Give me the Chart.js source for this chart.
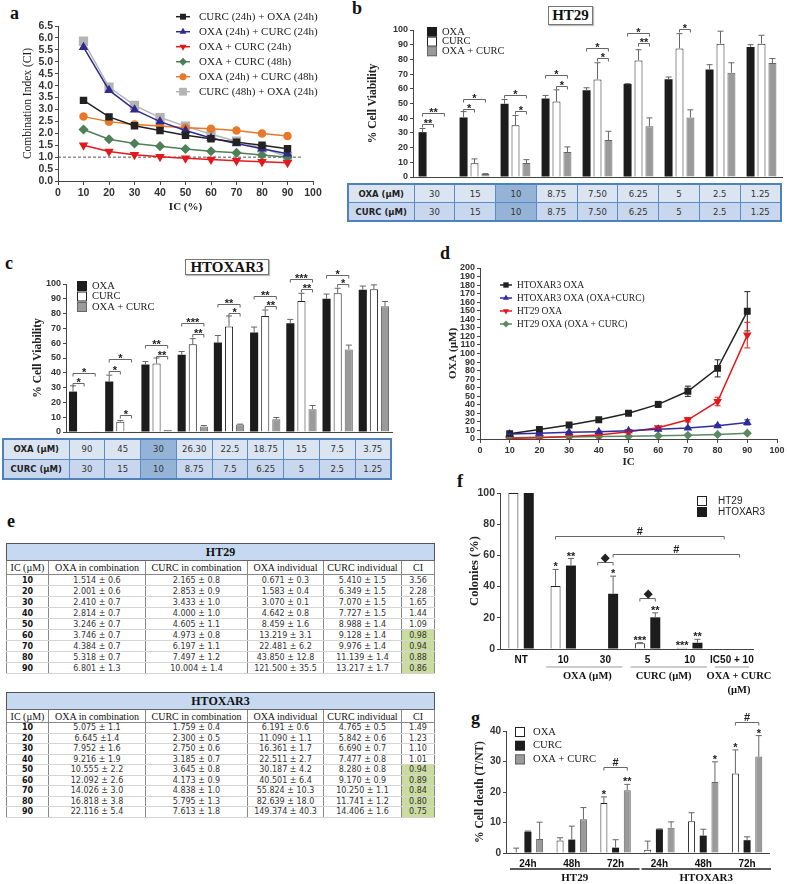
<!DOCTYPE html>
<html>
<head>
<meta charset="utf-8">
<script src="https://cdn.jsdelivr.net/npm/chart.js@4.4.1/dist/chart.umd.min.js"></script>
<style>
  body { margin: 0; background: #fff; }
  #page { position: relative; width: 787px; height: 884px; overflow: hidden; }
  canvas.layer { position: absolute; left: 0; top: 0; }
  .tag { position: absolute; font: bold 18px 'Liberation Serif', serif; color: #111; line-height: 1; }
  .boxtitle { position: absolute; font: bold 15px 'Liberation Serif', serif; color: #111; border: 1px solid #777;
    box-shadow: 1px 1px 1px #bbb; text-align: center; background: #fff; box-sizing: border-box; }
  table { position: absolute; border-collapse: collapse; table-layout: fixed; }
  table.dose { border: 2px solid #4f81bd; font: 8.5px 'DejaVu Sans', sans-serif; color: #333; }
  table.dose td, table.dose th { border: 1.5px solid #5b8ac6; text-align: center; padding: 0; background: #dbe5f1; }
  table.dose th { font: bold 8.5px 'DejaVu Sans', sans-serif; color: #222; }
  table.dose tr.r2 td, table.dose tr.r2 th { background: #c8d7ee; }
  table.dose td.hi, table.dose tr.r2 td.hi { background: #95b3d7; }
  table.ic { left: 6px; width: 428px; border: 1.5px solid #555; font: 8px 'DejaVu Sans', sans-serif; color: #333; }
  table.ic td { border-left: 1px solid #888; border-right: 1px solid #888; border-bottom: 1px solid #d4d4d4;
    text-align: center; padding: 0; line-height: 9px; white-space: nowrap; }
  table.ic td.ic0 { font-weight: bold; color: #111; }
  table.ic th { padding: 0; white-space: nowrap; }
  table.ic th.ttl { background: #c6d9f1; font: bold 12px 'Liberation Serif', serif; color: #111; border-bottom: 1px solid #666; }
  table.ic th.hd { font: 10px 'Liberation Serif', serif; color: #111; border: 1px solid #888; font-weight: normal; }
  table.ic td.green { background: #cadd9f; }
</style>
</head>
<body>
<div id="page">
  <div class="tag" style="left:10px;top:4px">a</div>
  <div class="tag" style="left:352px;top:-1px">b</div>
  <div class="tag" style="left:5px;top:254px">c</div>
  <div class="tag" style="left:440px;top:244px">d</div>
  <div class="tag" style="left:7px;top:512px">e</div>
  <div class="tag" style="left:457px;top:472px">f</div>
  <div class="tag" style="left:471px;top:709px">g</div>
  <div class="boxtitle" style="left:548px;top:6px;width:45px;height:19px;line-height:17px">HT29</div>
  <div class="boxtitle" style="left:185px;top:259px;width:84px;height:16px;line-height:14px">HTOXAR3</div>
  <table class="dose" id="doseB" style="left:347px;top:183px;width:435px"></table>
  <table class="dose" id="doseC" style="left:2px;top:438px;width:390px"></table>
  <table class="ic" id="tabHT29" style="top:543px"></table>
  <table class="ic" id="tabHTOX" style="top:692px"></table>
</div>
<script>
const W = 787, H = 884;
const SERIF = "'Liberation Serif', 'Times New Roman', serif";
const SANS = "'Liberation Sans', Arial, sans-serif";

// ---- a: combination index
const icPct = [10, 20, 30, 40, 50, 60, 70, 80, 90];
const ciC24O24 = [3.38, 2.69, 2.32, 2.12, 1.92, 1.77, 1.63, 1.50, 1.35];
const ciO24C24 = [5.61, 3.81, 2.99, 2.49, 2.12, 1.80, 1.57, 1.35, 1.14];
const ciOC24 = [1.50, 1.24, 1.10, 1.02, 0.95, 0.90, 0.85, 0.81, 0.77];
const ciOC48 = [2.16, 1.75, 1.57, 1.46, 1.34, 1.25, 1.18, 1.09, 1.00];
const ciO24C48 = [2.70, 2.49, 2.37, 2.31, 2.23, 2.19, 2.12, 1.99, 1.89];
const ciC48O24 = [5.86, 3.94, 3.17, 2.66, 2.30, 1.96, 1.67, 1.39, 1.02];
const ciRef = 1;
const ciRefEnd = 96;

// ---- b: HT29 viability
const bOxaDose = ['30', '15', '10', '8.75', '7.50', '6.25', '5', '2.5', '1.25'];
const bCurcDose = ['30', '15', '10', '8.75', '7.50', '6.25', '5', '2.5', '1.25'];
const bOxa = [30.5, 40.5, 49.8, 53.4, 59.0, 63.2, 66.5, 73.2, 88.5];
const bOxaSd = [2.5, 4.0, 2.9, 2.1, 1.7, 0.3, 1.5, 3.2, 1.5];
const bCurc = [0.3, 9.3, 35.2, 51.3, 66.4, 79.3, 87.5, 90.7, 90.7];
const bCurcSd = [0, 3.0, 6.6, 8.0, 11.3, 7.3, 10.0, 8.5, 5.7];
const bCombo = [0.4, 2.0, 9.5, 17.0, 25.2, 34.5, 40.4, 70.9, 77.5];
const bComboSd = [0, 0.3, 2.3, 3.5, 5.9, 5.7, 5.3, 6.8, 3.1];
const bSig = [[0,0,0,1,35.9,'**'],[0,0,0,2,43.2,'**'],[1,0,1,1,46.4,'*'],[1,0,1,2,53.2,'*'],
  [2,0,2,2,55.5,'*'],[2,1,2,2,45,'*'],[3,0,3,2,69.3,'*'],[3,1,3,2,61.8,'*'],[4,0,4,2,88,'*'],
  [4,1,4,2,81,'*'],[5,0,5,2,97.7,'*'],[5,1,5,2,91,'**'],[6,1,6,2,100.5,'*']];

// ---- c: HTOXAR3 viability
const cOxaDose = ['90', '45', '30', '26.30', '22.5', '18.75', '15', '7.5', '3.75'];
const cCurcDose = ['30', '15', '10', '8.75', '7.5', '6.25', '5', '2.5', '1.25'];
const cOxa = [27.3, 34.1, 45.6, 52.2, 60.5, 67.3, 73.4, 90.0, 96.1];
const cOxaSd = [3.9, 4.3, 2.0, 2.2, 4.7, 3.6, 2.7, 3.2, 2.5];
const cCurc = [0, 7.0, 46.2, 59.3, 71.3, 78.4, 88.5, 93.7, 96.4];
const cCurcSd = [0, 0.8, 3.8, 3.8, 7.1, 4.0, 5.2, 3.4, 3.0];
const cCombo = [0.2, 0.5, 1.5, 3.8, 5.0, 8.6, 15.4, 55.7, 84.9];
const cComboSd = [0, 0, 0, 0.6, 0.3, 1.2, 2.5, 3.0, 3.3];
const cSig = [[0,0,0,1,33.4,'*'],[0,0,0,2,39.8,'*'],[1,0,1,1,41.5,'*'],[1,0,1,2,49.2,'*'],[1,1,1,2,11.6,'*'],
  [2,0,2,2,58.9,'**'],[2,1,2,2,51.5,'**'],[3,0,3,2,73.6,'***'],[3,1,3,2,66.4,'**'],[4,0,4,2,86.7,'**'],
  [4,1,4,2,80.4,'*'],[5,0,5,2,92.1,'**'],[5,1,5,2,85.3,'**'],[6,0,6,2,103.6,'***'],[6,1,6,2,96.8,'**'],
  [7,0,7,2,106.1,'*'],[7,1,7,2,100,'*']];

// ---- d: OXA dose for each IC
const dHtoxOxa = [6.191, 11.090, 16.361, 22.511, 30.187, 40.501, 55.824, 82.639, 149.374];
const dHtoxOxaErr = [0.6, 1.0, 1.0, 1.2, 1.8, 3.5, 6, 10, 23];
const dHtoxComb = [5.8, 6.6, 7.8, 8.5, 9.7, 11.3, 12.8, 15.5, 19.4];
const dHtoxCombErr = [0.8, 0.8, 0.8, 0.8, 0.8, 1, 1, 1.5, 3];
const dHt29Oxa = [0.671, 1.583, 3.070, 4.642, 8.459, 13.219, 22.481, 43.850, 121.5];
const dHt29OxaErr = [0.3, 0.4, 0.3, 0.8, 1.0, 1.5, 2.5, 5, 15];
const dHt29Comb = [1.514, 2.001, 2.410, 2.814, 3.246, 3.746, 4.384, 5.318, 6.801];
const dHt29CombErr = [0.4, 0.4, 0.5, 0.5, 0.5, 0.5, 0.5, 0.6, 1.0];

// ---- e: tables
const eIc = ['10', '20', '30', '40', '50', '60', '70', '80', '90'];
const e29OxaComb = ['1.514 ± 0.6','2.001 ± 0.6','2.410 ± 0.7','2.814 ± 0.7','3.246 ± 0.7','3.746 ± 0.7','4.384 ± 0.7','5.318 ± 0.7','6.801 ± 1.3'];
const e29CurcComb = ['2.165 ± 0.8','2.853 ± 0.9','3.433 ± 1.0','4.000 ± 1.0','4.605 ± 1.1','4.973 ± 0.8','6.197 ± 1.1','7.497 ± 1.2','10.004 ± 1.4'];
const e29OxaInd = ['0.671 ± 0.3','1.583 ± 0.4','3.070 ± 0.1','4.642 ± 0.8','8.459 ± 1.6','13.219 ± 3.1','22.481 ± 6.2','43.850 ± 12.8','121.500 ± 35.5'];
const e29CurcInd = ['5.410 ± 1.5','6.349 ± 1.5','7.070 ± 1.5','7.727 ± 1.5','8.988 ± 1.4','9.128 ± 1.4','9.976 ± 1.4','11.139 ± 1.4','13.217 ± 1.7'];
const e29Ci = ['3.56','2.28','1.65','1.44','1.09','0.98','0.94','0.88','0.86'];
const e3OxaComb = ['5.075 ± 1.1','6.645 ±1.4','7.952 ± 1.6','9.216 ± 1.9','10.555 ± 2.2','12.092 ± 2.6','14.026 ± 3.0','16.818 ± 3.8','22.116 ± 5.4'];
const e3CurcComb = ['1.759 ± 0.4','2.300 ± 0.5','2.750 ± 0.6','3.185 ± 0.7','3.645 ± 0.8','4.173 ± 0.9','4.838 ± 1.0','5.795 ± 1.3','7.613 ± 1.8'];
const e3OxaInd = ['6.191 ± 0.6','11.090 ± 1.1','16.361 ± 1.7','22.511 ± 2.7','30.187 ± 4.2','40.501 ± 6.4','55.824 ± 10.3','82.639 ± 18.0','149.374 ± 40.3'];
const e3CurcInd = ['4.765 ± 0.5','5.842 ± 0.6','6.690 ± 0.7','7.477 ± 0.8','8.280 ± 0.8','9.170 ± 0.9','10.250 ± 1.1','11.741 ± 1.2','14.406 ± 1.6'];
const e3Ci = ['1.49','1.23','1.10','1.01','0.94','0.89','0.84','0.80','0.75'];
const eHeads = ['IC (µM)', 'OXA in combination', 'CURC in combination', 'OXA individual', 'CURC individual', 'CI'];

// ---- f: colonies
const fCats = ['NT', '10', '30', '5', '10', 'IC50 + 10'];
const fHt29 = [100, 40.4, 0, 3.7, 0.8, 0];
const fHt29Sd = [0, 10.6, 0, 0.4, 0, 0];
const fHtox = [100, 53.5, 35.4, 20.3, 4.0, 0];
const fHtoxSd = [0, 4.5, 11.3, 2.9, 2.2, 0];
const fGroups = [[1, 2, ['OXA (µM)']], [3, 4, ['CURC (µM)']], [5, 5, ['OXA + CURC', '(µM)']]];
const fBrackets = [[2,0,2,1,55.5,'◆'],[3,0,3,1,32.8,'◆'],[1,0,5,0,72.3,'#'],[2,1,5,1,60.8,'#']];
const fStars = [[1,0,'*'],[1,1,'**'],[2,1,'*'],[3,0,'***'],[3,1,'**'],[4,0,'***'],[4,1,'**']];

// ---- g: cell death
const gCats = ['24h', '48h', '72h', '24h', '48h', '72h'];
const gOxa = [0.2, 4.1, 16.4, 1.1, 10.4, 26.1];
const gOxaSd = [1.4, 0.9, 2.0, 2.8, 2.8, 7.7];
const gCurc = [7.0, 4.4, 1.75, 7.8, 5.7, 4.2];
const gCurcSd = [0.2, 4.4, 2.6, 0.1, 2.1, 1.1];
const gCombo = [4.6, 11.1, 20.6, 8.3, 23.3, 31.6];
const gComboSd = [5.5, 3.8, 1.9, 1.9, 6.6, 6.9];
const gGroups = [[0, 2, ['HT29']], [3, 5, ['HTOXAR3']]];
const gBrackets = [[2,0,2,2,28.1,'#'],[5,0,5,2,43.1,'#']];
const gStars = [[2,0,'*'],[2,2,'**'],[4,2,'*'],[5,0,'*'],[5,2,'*']];

// ---------- plugins ----------
function marker(ctx, style, x, y, r, rot) {
  ctx.beginPath();
  if (style === 'rect') {
    const s = r * Math.SQRT1_2;
    ctx.rect(x - s, y - s, 2 * s, 2 * s);
  } else if (style === 'rectRot') {
    ctx.moveTo(x, y - r); ctx.lineTo(x + r, y); ctx.lineTo(x, y + r); ctx.lineTo(x - r, y); ctx.closePath();
  } else if (style === 'triangle') {
    const d = rot ? -1 : 1;
    ctx.moveTo(x, y - d * r); ctx.lineTo(x + r * 0.866, y + d * r / 2); ctx.lineTo(x - r * 0.866, y + d * r / 2); ctx.closePath();
  } else {
    ctx.arc(x, y, r, 0, Math.PI * 2);
  }
  ctx.fill();
}

const errorBars = {
  id: 'errorBars',
  afterDatasetsDraw(chart) {
    const ctx = chart.ctx, ys = chart.scales.y;
    chart.data.datasets.forEach((ds, i) => {
      if (!ds.errors) return;
      const meta = chart.getDatasetMeta(i);
      ctx.save();
      ctx.strokeStyle = ds.errorColor || '#666';
      ctx.lineWidth = 1;
      meta.data.forEach((el, j) => {
        const e = ds.errors[j];
        if (!e) return;
        const raw = ds.data[j];
        const v = typeof raw === 'object' ? raw.y : raw;
        const top = ys.getPixelForValue(v + e);
        const bot = ds.errorBoth ? ys.getPixelForValue(Math.max(v - e, 0)) : el.y;
        const cap = ds.errorCap || 3;
        ctx.beginPath();
        ctx.moveTo(el.x, bot); ctx.lineTo(el.x, top);
        ctx.moveTo(el.x - cap, top); ctx.lineTo(el.x + cap, top);
        if (ds.errorBoth) { ctx.moveTo(el.x - cap, bot); ctx.lineTo(el.x + cap, bot); }
        ctx.stroke();
      });
      ctx.restore();
    });
  }
};

const sigMarks = {
  id: 'sigMarks',
  afterDatasetsDraw(chart, args, o) {
    if (!o || (!o.brackets && !o.stars)) return;
    const ctx = chart.ctx, ys = chart.scales.y;
    const px = (g, d) => chart.getDatasetMeta(d).data[g].x;
    const lift = t => (t.indexOf('*') >= 0 ? 2.5 : -2);
    ctx.save();
    ctx.strokeStyle = '#666'; ctx.fillStyle = '#222'; ctx.lineWidth = 1;
    ctx.font = o.font; ctx.textAlign = 'center'; ctx.textBaseline = 'alphabetic';
    (o.brackets || []).forEach(([ga, da, gb, db, v, t]) => {
      const x1 = px(ga, da), x2 = px(gb, db), y = Math.round(ys.getPixelForValue(v)) + 0.5;
      ctx.beginPath();
      ctx.moveTo(x1, y + 3); ctx.lineTo(x1, y); ctx.lineTo(x2, y); ctx.lineTo(x2, y + 3);
      ctx.stroke();
      ctx.fillText(t, (x1 + x2) / 2, y + lift(t));
    });
    (o.stars || []).forEach(([g, d, t]) => {
      const ds = chart.data.datasets[d];
      const top = ys.getPixelForValue(ds.data[g] + (ds.errors ? ds.errors[g] : 0));
      ctx.fillText(t, px(g, d), top + 1);
    });
    ctx.restore();
  }
};

const groupAxis = {
  id: 'groupAxis',
  afterDraw(chart, args, o) {
    if (!o || !o.groups) return;
    const xs = chart.scales.x, ctx = chart.ctx, b = chart.chartArea.bottom;
    const w = xs.getPixelForValue(1) - xs.getPixelForValue(0);
    ctx.save();
    ctx.strokeStyle = o.lineColor; ctx.lineWidth = o.lineWidth;
    ctx.fillStyle = '#111'; ctx.font = o.font; ctx.textAlign = 'center'; ctx.textBaseline = 'middle';
    o.groups.forEach(([from, to, lines], gi) => {
      const x1 = xs.getPixelForValue(from) - w / 2 + o.inset[0];
      const x2 = xs.getPixelForValue(to) + w / 2 + o.inset[1];
      const dx = o.textDx ? o.textDx[gi] : 0;
      ctx.beginPath(); ctx.moveTo(x1, b + o.lineY); ctx.lineTo(x2, b + o.lineY); ctx.stroke();
      lines.forEach((t, k) => ctx.fillText(t, (x1 + x2) / 2 + dx, b + o.textY + k * o.lineH));
    });
    ctx.restore();
  }
};

const legendBox = {
  id: 'legendBox',
  afterDraw(chart, args, o) {
    if (!o || o.x == null) return;
    const ctx = chart.ctx;
    ctx.save();
    ctx.font = o.font; ctx.textBaseline = 'middle'; ctx.textAlign = 'left';
    let row = 0;
    chart.data.datasets.forEach(ds => {
      if (ds.noLegend) return;
      const y = o.y + row++ * o.step;
      if (o.kind === 'line') {
        ctx.strokeStyle = ds.borderColor; ctx.lineWidth = ds.borderWidth;
        ctx.beginPath(); ctx.moveTo(o.x - o.half, y); ctx.lineTo(o.x + o.half, y); ctx.stroke();
        ctx.fillStyle = ds.borderColor;
        marker(ctx, ds.pointStyle, o.x, y, ds.pointRadius, ds.pointRotation);
      } else {
        ctx.fillStyle = ds.backgroundColor;
        ctx.fillRect(o.x, y - o.size / 2, o.size, o.size);
        if (ds.borderWidth) {
          ctx.strokeStyle = ds.borderColor; ctx.lineWidth = 1;
          ctx.strokeRect(o.x + 0.5, y - o.size / 2 + 0.5, o.size - 1, o.size - 1);
        }
      }
      ctx.fillStyle = '#222';
      ctx.fillText(ds.label, o.x + o.gap, y);
    });
    ctx.restore();
  }
};

Chart.register(errorBars, sigMarks, groupAxis, legendBox);
Chart.defaults.font.family = SANS;
Chart.defaults.color = '#222';

// ---------- helpers ----------
function layer() {
  const c = document.createElement('canvas');
  c.width = W; c.height = H; c.className = 'layer';
  document.getElementById('page').appendChild(c);
  return c;
}

function frame(area, yW, xH, plugins, extra) {
  return Object.assign({
    responsive: false, animation: false, devicePixelRatio: 1, events: [],
    layout: { padding: { left: area[0] - yW, top: area[1], right: W - area[2], bottom: H - area[3] - xH } },
    plugins: Object.assign({ legend: { display: false }, tooltip: { enabled: false } }, plugins)
  }, extra);
}

function yAxis(min, max, step, w, title, tpad, o = {}) {
  const s = {
    min, max,
    ticks: { stepSize: step, autoSkip: false, padding: 2, color: '#333', font: { family: SANS, weight: 'bold', size: o.tick || 9 } },
    grid: { drawOnChartArea: false, tickLength: 3, color: '#444' },
    border: { color: '#444', width: 1 },
    title: { display: true, text: title, color: '#222', padding: { top: tpad, bottom: 0 },
      font: { family: SERIF, weight: o.weight || 'bold', size: o.titleSize || 11.5 } },
    afterFit: sc => { sc.width = w; }
  };
  if (o.fmt) s.ticks.callback = o.fmt;
  return s;
}

function xLin(min, max, step, h, title, bpad, tick) {
  return {
    type: 'linear', min, max,
    ticks: { stepSize: step, autoSkip: false, padding: 2, maxRotation: 0, color: '#333', font: { family: SANS, weight: 'bold', size: tick } },
    grid: { drawOnChartArea: false, tickLength: 4, color: '#444' },
    border: { color: '#444', width: 1 },
    title: { display: true, text: title, color: '#222', padding: { top: 0, bottom: bpad }, font: { family: SERIF, weight: 'bold', size: 11 } },
    afterFit: sc => { sc.height = h; }
  };
}

function xCat(labels, h, showTicks) {
  return {
    type: 'category', labels,
    ticks: { display: showTicks, padding: 3, maxRotation: 0, autoSkip: false, color: '#111', font: { family: SANS, weight: 'bold', size: 10 } },
    grid: { display: false, tickLength: 2 },
    border: { color: '#444', width: 1 },
    afterFit: sc => { sc.height = h; }
  };
}

function lineSet(label, ys, color, style, r, rot, errs) {
  return {
    label, data: icPct.map((x, i) => ({ x, y: ys[i] })),
    borderColor: color, backgroundColor: color, pointBackgroundColor: color, pointBorderColor: color,
    pointStyle: style, pointRadius: r, pointRotation: rot || 0, borderWidth: 1.5,
    errors: errs, errorBoth: true, errorColor: color, errorCap: 3
  };
}

function barSet(label, data, errs, fill, stroke) {
  return { label, data, errors: errs, backgroundColor: fill, borderColor: stroke || fill, borderWidth: stroke ? 1 : 0 };
}

function doseTable(id, rows, labels, hi) {
  const t = document.getElementById(id);
  let html = '<colgroup><col style="width:66px">' + rows[0].map(() => '<col>').join('') + '</colgroup>';
  rows.forEach((r, k) => {
    html += '<tr class="r' + (k + 1) + '" style="height:' + (id === 'doseB' ? 18.5 : 20) + 'px"><th>' + labels[k] + '</th>' +
      r.map((v, i) => '<td' + (i === hi ? ' class="hi"' : '') + '>' + v + '</td>').join('') + '</tr>';
  });
  t.innerHTML = html;
}

function icTable(id, title, cols, rowH, headH) {
  const t = document.getElementById(id);
  let html = '<colgroup><col style="width:42px"><col style="width:97px"><col style="width:102px"><col style="width:76px"><col style="width:78px"><col style="width:33px"></colgroup>';
  html += '<tr style="height:17px"><th class="ttl" colspan="6">' + title + '</th></tr>';
  html += '<tr style="height:' + headH + 'px">' + eHeads.map(h => '<th class="hd">' + h + '</th>').join('') + '</tr>';
  eIc.forEach((ic, i) => {
    const ci = cols[4][i];
    html += '<tr style="height:' + rowH + 'px"><td class="ic0">' + ic + '</td>' +
      cols.slice(0, 4).map(c => '<td>' + c[i] + '</td>').join('') +
      '<td' + (parseFloat(ci) < 1 ? ' class="green"' : '') + '>' + ci + '</td></tr>';
  });
  t.innerHTML = html;
}

// ---------- a ----------
new Chart(layer(), {
  type: 'line',
  data: { datasets: [
    lineSet('CURC (24h) + OXA (24h)', ciC24O24, '#222222', 'rect', 4.2),
    lineSet('OXA (24h) + CURC (24h)', ciO24C24, '#2e2b8e', 'triangle', 4),
    lineSet('OXA + CURC (24h)', ciOC24, '#e3191c', 'triangle', 4, 180),
    lineSet('OXA + CURC (48h)', ciOC48, '#4f7f58', 'rectRot', 4),
    lineSet('OXA (24h) + CURC (48h)', ciO24C48, '#e8782a', 'circle', 3.5),
    lineSet('CURC (48h) + OXA (24h)', ciC48O24, '#b4b4b4', 'rect', 5.5),
    { label: '', data: [{ x: 0, y: ciRef }, { x: ciRefEnd, y: ciRef }], borderColor: '#555', borderDash: [3, 2],
      borderWidth: 1, pointRadius: 0, noLegend: true }
  ] },
  options: frame([58, 26, 313, 181], 58, 34,
    { legendBox: { kind: 'line', x: 183, y: 16.7, step: 15, half: 7, gap: 16, font: '11px ' + SERIF } },
    { scales: {
      x: xLin(0, 100, 10, 34, 'IC (%)', 1.4, 10.5),
      y: yAxis(0, 6.5, 0.5, 58, 'Combination Index (CI)', 21, { tick: 10.5, weight: 'normal', fmt: v => v.toFixed(1) })
    } })
});

// ---------- b ----------
new Chart(layer(), {
  type: 'bar',
  data: { labels: bOxaDose, datasets: [
    barSet('OXA', bOxa, bOxaSd, '#1c1c1c'),
    barSet('CURC', bCurc, bCurcSd, '#ffffff', '#222'),
    barSet('OXA + CURC', bCombo, bComboSd, '#9a9a9a', '#666')
  ] },
  options: frame([413, 30, 782, 177], 50, 1,
    { legendBox: { kind: 'box', x: 427, y: 32, step: 9.6, size: 10, gap: 15, font: '10.5px ' + SERIF },
      sigMarks: { brackets: bSig, font: 'bold 11px ' + SANS } },
    { datasets: { bar: { categoryPercentage: 0.8, barPercentage: 0.73 } },
      scales: { x: xCat(bOxaDose, 1, false), y: yAxis(0, 100, 10, 50, '% Cell Viability', 3) } })
});
doseTable('doseB', [bOxaDose, bCurcDose], ['OXA (µM)', 'CURC (µM)'], 2);

// ---------- c ----------
new Chart(layer(), {
  type: 'bar',
  data: { labels: cOxaDose, datasets: [
    barSet('OXA', cOxa, cOxaSd, '#1c1c1c'),
    barSet('CURC', cCurc, cCurcSd, '#ffffff', '#222'),
    barSet('OXA + CURC', cCombo, cComboSd, '#9a9a9a', '#666')
  ] },
  options: frame([66, 284, 392, 432], 50, 1,
    { legendBox: { kind: 'box', x: 77, y: 286, step: 10.5, size: 10, gap: 15, font: '10.5px ' + SERIF },
      sigMarks: { brackets: cSig, font: 'bold 11px ' + SANS } },
    { datasets: { bar: { categoryPercentage: 0.92, barPercentage: 0.73 } },
      scales: { x: xCat(cOxaDose, 1, false), y: yAxis(0, 100, 10, 50, '% Cell Viability', 15) } })
});
doseTable('doseC', [cOxaDose, cCurcDose], ['OXA (µM)', 'CURC (µM)'], 2);

// ---------- d ----------
new Chart(layer(), {
  type: 'line',
  data: { datasets: [
    lineSet('HTOXAR3 OXA', dHtoxOxa, '#222222', 'rect', 3.8, 0, dHtoxOxaErr),
    lineSet('HTOXAR3 OXA (OXA+CURC)', dHtoxComb, '#2f2c9c', 'triangle', 3.5, 0, dHtoxCombErr),
    lineSet('HT29 OXA', dHt29Oxa, '#e3191c', 'triangle', 3.5, 180, dHt29OxaErr),
    lineSet('HT29 OXA (OXA + CURC)', dHt29Comb, '#5b8a62', 'rectRot', 3.5, 0, dHt29CombErr)
  ] },
  options: frame([480, 268, 777, 439], 36, 30,
    { legendBox: { kind: 'line', x: 506, y: 285, step: 13, half: 6, gap: 11, font: '9.5px ' + SERIF } },
    { scales: {
      x: xLin(0, 100, 10, 30, 'IC', 0, 9),
      y: yAxis(0, 200, 10, 36, 'OXA (µM)', 2.4, { titleSize: 11 })
    } })
});

// ---------- e ----------
icTable('tabHT29', 'HT29', [e29OxaComb, e29CurcComb, e29OxaInd, e29CurcInd, e29Ci], 11, 14);
icTable('tabHTOX', 'HTOXAR3', [e3OxaComb, e3CurcComb, e3OxaInd, e3CurcInd, e3Ci], 10.5, 13);

// ---------- f ----------
new Chart(layer(), {
  type: 'bar',
  data: { labels: fCats, datasets: [
    barSet('HT29', fHt29, fHt29Sd, '#ffffff', '#222'),
    barSet('HTOXAR3', fHtox, fHtoxSd, '#1c1c1c')
  ] },
  options: frame([500, 493, 753, 649], 38, 20,
    { legendBox: { kind: 'box', x: 697, y: 501, step: 11, size: 10, gap: 21, font: '10px ' + SANS },
      sigMarks: { brackets: fBrackets, stars: fStars, font: 'bold 11px ' + SANS },
      groupAxis: { groups: fGroups, lineColor: '#999', lineWidth: 1, inset: [4, -4], textDx: [3, -5, 7],
        lineY: 18, textY: 27, lineH: 14, font: 'bold 10.5px ' + SERIF } },
    { datasets: { bar: { categoryPercentage: 0.73, barPercentage: 0.65 } },
      scales: { x: xCat(fCats, 20, true), y: yAxis(0, 100, 20, 38, 'Colonies (%)', 5.5, { tick: 10.5, titleSize: 12.5 }) } })
});

// ---------- g ----------
new Chart(layer(), {
  type: 'bar',
  data: { labels: gCats, datasets: [
    barSet('OXA', gOxa, gOxaSd, '#ffffff', '#222'),
    barSet('CURC', gCurc, gCurcSd, '#1c1c1c'),
    barSet('OXA + CURC', gCombo, gComboSd, '#9a9a9a', '#666')
  ] },
  options: frame([506, 731, 769, 853], 36, 20,
    { legendBox: { kind: 'box', x: 515, y: 732, step: 13.7, size: 10, gap: 18, font: '10.6px ' + SERIF },
      sigMarks: { brackets: gBrackets, stars: gStars, font: 'bold 11px ' + SANS },
      groupAxis: { groups: gGroups, lineColor: '#222', lineWidth: 1.5, inset: [4, 2], lineY: 16, textY: 25, lineH: 14, font: 'bold 11px ' + SERIF } },
    { datasets: { bar: { categoryPercentage: 0.8, barPercentage: 0.6 } },
      scales: { x: xCat(gCats, 20, true), y: yAxis(0, 40, 10, 36, '% Cell death (T/NT)', 3, { tick: 10 }) } })
});
</script>
</body>
</html>
